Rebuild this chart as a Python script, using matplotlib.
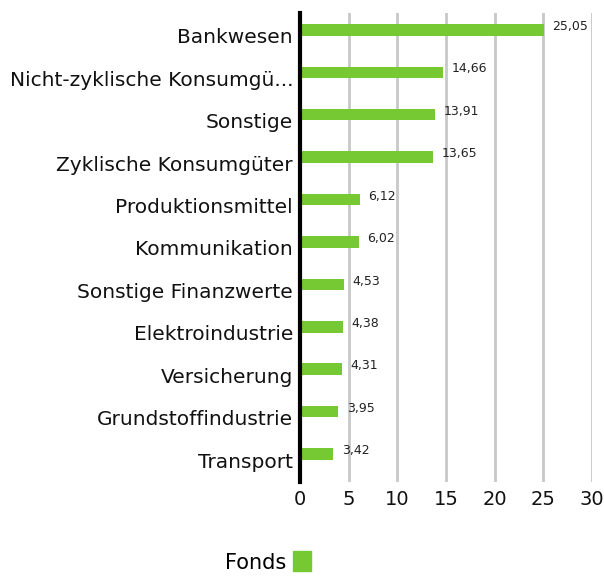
import matplotlib.pyplot as plt
import matplotlib.transforms as mtransforms
from matplotlib.patches import Patch

categories = ['Bankwesen', 'Nicht-zyklische Konsumgü...', 'Sonstige', 'Zyklische Konsumgüter',
              'Produktionsmittel', 'Kommunikation', 'Sonstige Finanzwerte', 'Elektroindustrie',
              'Versicherung', 'Grundstoffindustrie', 'Transport']
values = [25.05, 14.66, 13.91, 13.65, 6.12, 6.02, 4.53, 4.38, 4.31, 3.95, 3.42]
series_name = 'Fonds'

green = '#76c933'
plt.rcParams['font.family'] = ['DejaVu Sans']

fig = plt.figure(figsize=(6.04, 5.76), dpi=100)
ax = fig.add_axes([300 / 604, 1 - 482 / 576, 292 / 604, 469 / 576])

pos = list(range(len(categories)))
ax.barh(pos, values, height=0.27, color=green, zorder=3)
for p, v in zip(pos, values):
    ax.text(v + 0.9, p - 0.08, f'{v:.2f}'.replace('.', ','), va='center', ha='left',
            fontsize=9, color='#222222')

ax.set_xlim(0, 30)
ax.set_ylim(10.66, -0.4)
ax.set_xticks([0, 5, 10, 15, 20, 25, 30])
ax.set_yticks(pos)
ax.set_yticklabels(categories, fontsize=14.5, color='#111111')
ax.tick_params(axis='x', labelsize=14, length=0, pad=6, colors='#111111')
ax.tick_params(axis='y', length=0, pad=5)
ax.xaxis.grid(True, color='#c8c8c8', linewidth=2, zorder=0)
for s in ['top', 'right', 'bottom']:
    ax.spines[s].set_visible(False)
ax.spines['left'].set_linewidth(3)
ax.spines['left'].set_color('black')
ax.spines['left'].set_zorder(4)

# category labels sit a little below the bar centre
shift = mtransforms.ScaledTranslation(0, -6 / 100, fig.dpi_scale_trans)
for lab in ax.get_yticklabels():
    lab.set_transform(lab.get_transform() + shift)

fig.legend(handles=[Patch(color=green, label=series_name)], loc='center',
           bbox_to_anchor=(268 / 604, 1 - 562 / 576), frameon=False, markerfirst=False,
           fontsize=15, handlelength=0.85, handleheight=1.1, handletextpad=0.35)

fig.savefig('out.png', dpi=100)
